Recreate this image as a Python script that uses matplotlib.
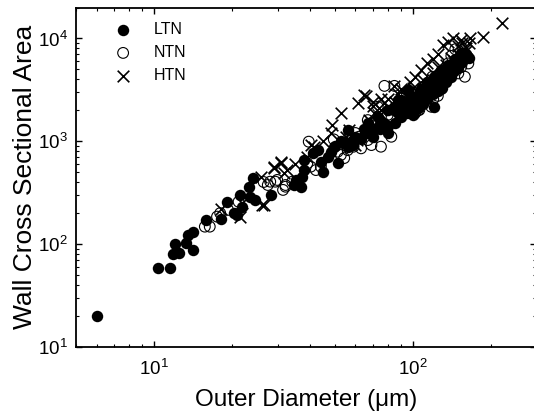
import matplotlib
matplotlib.use("Agg")
import matplotlib.pyplot as plt

plt.rcParams['font.family'] = ['Liberation Sans', 'DejaVu Sans']
plt.rcParams['mathtext.fontset'] = 'custom'
plt.rcParams['mathtext.rm'] = 'Liberation Sans'
plt.rcParams['mathtext.it'] = 'Liberation Sans:italic'

# ---- data ----
ltn_x = [6.0, 10.3, 11.5, 11.8, 12.5, 12.0, 13.3, 14.1, 13.5, 14.1, 15.9, 18.2, 19.2, 20.3,
         21.5, 21.8, 20.9, 23.2, 24.2, 23.5, 24.6, 28.4, 34.7, 35.2, 36.8, 37.3, 37.9, 37.9,
         44.8, 44.1, 46.8, 51.2, 48.2, 49.5, 54.3, 56.0, 58.5, 56.0, 63.1, 67.0, 73.2, 77.7,
         80.0, 84.9, 90.2, 95.7, 73.2, 84.9, 92.8, 98.6, 108, 114, 121, 129, 137, 146, 154,
         114, 129, 98.6, 80, 67, 121, 41, 43, 50, 53, 60, 65, 70, 75, 88, 95, 100, 105, 110,
         118, 125, 132, 140, 150, 160, 88, 102,
         85, 90, 95, 100, 105, 110, 115, 120, 125, 130, 135, 140, 92, 98, 103, 108, 112, 128,
         145, 150, 155, 165, 75, 80, 70, 63, 58]
ltn_y = [20, 58, 58, 79, 82, 99, 103, 87, 122, 131, 171, 174, 257, 199,
         299, 230, 191, 360, 434, 288, 267, 299, 374, 419, 360, 451, 523, 655,
         504, 631, 705, 608, 789, 880, 952, 883, 916, 1282, 1065, 1191, 1380, 1487,
         1191, 2160, 2512, 3141, 1730, 2010, 2330, 2760, 3210, 3750, 4240, 4920, 5520, 6270, 7250,
         2560, 3790, 2010, 2010, 1487, 2160, 760, 820, 900, 1000, 1100, 1300, 1250, 1600, 1900, 2300, 2500, 2800, 3000,
         3400, 3600, 4500, 5000, 6500, 7000, 2500, 2000,
         1500, 1700, 1900, 1800, 2100, 2300, 2700, 2900, 3100, 3300, 3800, 4200, 2000, 2200, 2400, 2600, 3100, 3900,
         4800, 5200, 5900, 6500, 1300, 1400, 1100, 1050, 1000]

ntn_x = [15.7, 16.4, 17.5, 18.0, 19.3, 21.2, 26.5, 27.5, 28.1, 29.4, 32.2, 29.9, 32.2, 34.2,
         31.5, 39.6, 40.3, 42.2, 44.1, 39.1, 49.5, 51.2, 52.7, 63.1, 69.2, 84.9, 73.2, 75.3,
         67.0, 59, 62, 67, 159, 154, 164, 150, 120, 129, 125, 105, 102, 141, 146, 137, 118,
         125, 82.6, 75.3, 56.0, 77.7, 54.3, 106, 121, 119, 90, 95, 110, 100, 80, 70, 60, 130, 145]
ntn_y = [147, 147, 184, 199, 214, 257, 400, 374, 403, 403, 374, 419, 360, 403,
         335, 988, 564, 523, 564, 608, 1040, 789, 733, 851, 916, 3452, 2160, 1730,
         1603, 883, 1104, 1025, 4240, 5300, 5710, 4570, 2560, 3210, 2760, 2010, 1866, 6760, 7850, 5710, 2160,
         3210, 1104, 883, 818, 3452, 684, 2010, 3590, 4240, 2600, 2900, 3400, 2300, 1800, 1500, 1200, 4000, 5000]

htn_x = [18.2, 21.4, 26.1, 29.0, 30.8, 31.7, 21.8, 64.9, 61.2, 52.7, 48.9, 48.2, 40.3, 41.5,
         39.1, 30.8, 29.0, 32.7, 25.8, 26.5, 56.7, 61, 60, 75.3, 77.7, 71.1, 221, 187, 166,
         154, 143, 137, 131, 125, 120, 114, 108, 102, 97.2, 65.9, 75.3, 70, 84.9, 90.2,
         85, 95, 105, 115, 130, 145, 160, 155, 55, 68, 45, 35,
         88, 100, 110, 120, 135, 150, 160, 140, 165, 150, 125, 80, 70]
htn_y = [217, 184, 239, 564, 608, 486, 248, 2806, 2328, 1866, 1432, 1191, 916, 883,
         705, 631, 544, 523, 451, 239, 1282, 1025, 916, 2009, 2328, 1866, 14000, 10440, 10000,
         9640, 10000, 9270, 8600, 7010, 6270, 5710, 4920, 4240, 3790, 2760, 2560, 2200, 3452, 3210,
         2400, 2700, 3000, 3500, 4500, 6000, 8000, 9000, 1100, 1600, 1000, 600,
         2900, 3300, 3900, 4600, 5500, 7000, 7500, 6500, 9000, 8500, 5300, 2600, 2400]

labels = ['LTN', 'NTN', 'HTN']

fig = plt.figure(figsize=(5.34, 4.19), dpi=100)
ax = fig.add_axes([0.143, 0.173, 0.861, 0.809])

ax.scatter(ltn_x, ltn_y, s=68, c='black', marker='o', linewidths=0, label=labels[0], zorder=3)
ax.scatter(ntn_x, ntn_y, s=60, facecolors='none', edgecolors='black', marker='o', linewidths=0.8,
           label=labels[1], zorder=3)
ax.scatter(htn_x, htn_y, s=70, c='black', marker='x', linewidths=1.2, label=labels[2], zorder=3)

ax.set_xscale('log')
ax.set_yscale('log')
ax.set_xlim(5, 300)
ax.set_ylim(10, 2e4)

ax.tick_params(which='both', direction='in', top=True, right=True, labelsize=13.5)
ax.tick_params(axis='x', which='major', pad=9)
ax.tick_params(axis='y', which='major', pad=6)
ax.tick_params(which='major', length=4, width=1)
ax.tick_params(which='minor', length=2, width=0.8)
for s in ['left', 'bottom', 'top']:
    ax.spines[s].set_linewidth(1.3)
ax.spines['right'].set_visible(False)
for t in ax.yaxis.get_ticklines(minor=False)[1::2] + ax.yaxis.get_ticklines(minor=True)[1::2]:
    t.set_color('#aaaaaa')

ax.set_xlabel('Outer Diameter (μm)', fontsize=17.5, labelpad=7)
ax.set_ylabel('Wall Cross Sectional Area', fontsize=19, labelpad=1)

leg = ax.legend(loc='upper left', bbox_to_anchor=(0.06, 0.99), frameon=False, fontsize=11.5,
                handlelength=1.0, handletextpad=1.4, labelspacing=0.5, borderaxespad=0.3)

fig.savefig('out.png', dpi=100)
